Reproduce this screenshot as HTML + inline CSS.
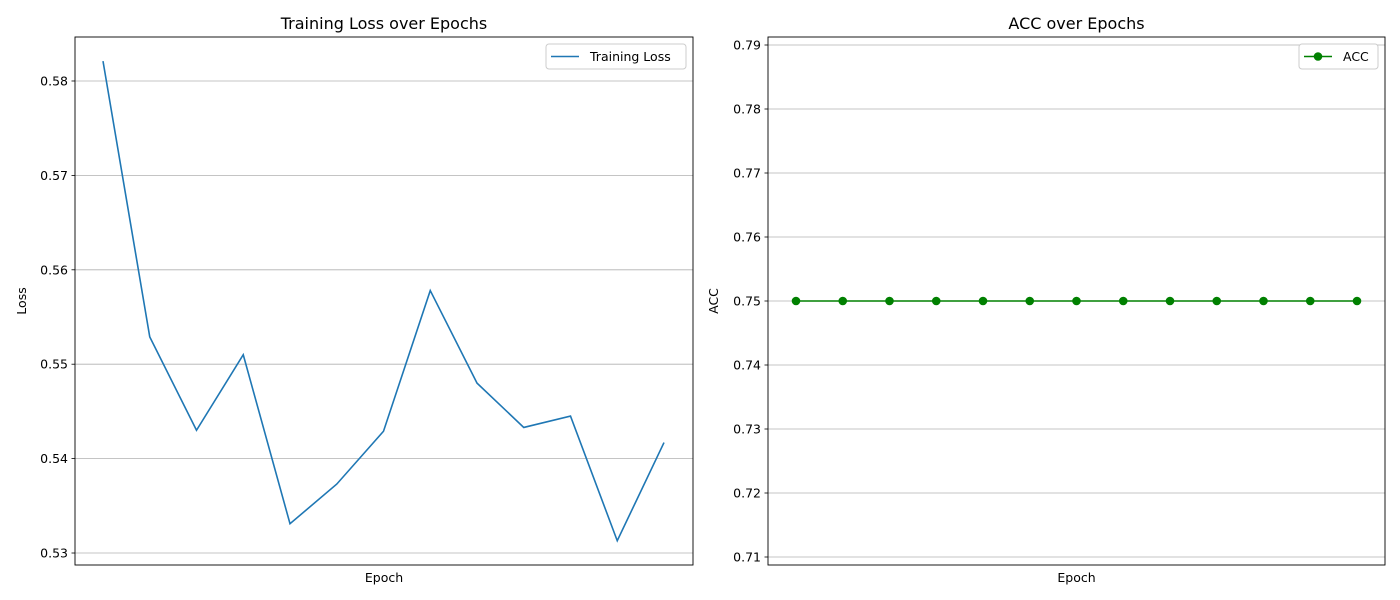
<!DOCTYPE html>
<html><head><meta charset="utf-8"><style>
body{margin:0;background:#fff;}
svg{display:block;font-family:"DejaVu Sans","Liberation Sans",sans-serif;}
</style></head><body>
<svg id="chart" width="1400" height="600" xmlns="http://www.w3.org/2000/svg"></svg>
<script>
const epochs = [1,2,3,4,5,6,7,8,9,10,11,12,13];
const lossValues = [0.5821,0.5529,0.5430,0.5510,0.5331,0.5373,0.5429,0.5578,0.5480,0.5433,0.5445,0.5313,0.5417];
const accValues = [0.75,0.75,0.75,0.75,0.75,0.75,0.75,0.75,0.75,0.75,0.75,0.75,0.75];
const lossTicks = [0.53,0.54,0.55,0.56,0.57,0.58];
const accTicks = [0.71,0.72,0.73,0.74,0.75,0.76,0.77,0.78,0.79];
const lossTickLabels = ["0.53","0.54","0.55","0.56","0.57","0.58"];
const accTickLabels = ["0.71","0.72","0.73","0.74","0.75","0.76","0.77","0.78","0.79"];

const svg = document.getElementById('chart');
const NS = 'http://www.w3.org/2000/svg';
function mk(tag, attrs, parent){const e=document.createElementNS(NS,tag);for(const k in attrs)e.setAttribute(k,attrs[k]);(parent||svg).appendChild(e);return e;}

function panel(cfg){
  const g = mk('g',{});
  
  
  const {x0,x1,y0,y1,ymin,ymax} = cfg;
  const xs = i => cfg.px0 + (i-1)*(cfg.px1-cfg.px0)/(epochs.length-1);
  const ys = v => y1 - (v-ymin)/(ymax-ymin)*(y1-y0);
  cfg.ticks.forEach((t,i)=>{
    const y = ys(t);
    const gl = mk('line',{x1:x0,x2:x1,y1:y,y2:y,stroke:'#b0b0b0','stroke-width':0.8},g);
    
    
    mk('line',{x1:x0-3.5,x2:x0,y1:y,y2:y,stroke:'#000','stroke-width':0.8},g);
    const tl = mk('text',{x:x0-7,y:y+4.5,'text-anchor':'end','font-size':12.5},g);
    tl.textContent = cfg.labels[i];
    
    
  });
  const pts = epochs.map((e,i)=>xs(e)+','+ys(cfg.values[i])).join(' ');
  const line = mk('polyline',{points:pts,fill:'none',stroke:cfg.color,'stroke-width':1.6},g);
  
  
  if(cfg.markers){
    epochs.forEach((e,i)=>{
      const c = mk('circle',{cx:xs(e),cy:ys(cfg.values[i]),r:4.3,fill:cfg.color},g);
      
      
    });
  }
  const fr = mk('rect',{x:x0,y:y0,width:x1-x0,height:y1-y0,fill:'none',stroke:'#000','stroke-width':0.9},g);
  
  
  const t = mk('text',{x:(x0+x1)/2,y:29,'text-anchor':'middle','font-size':16},g);
  t.textContent = cfg.title;
  
  
  const xl = mk('text',{x:(x0+x1)/2,y:582,'text-anchor':'middle','font-size':12.5},g);
  xl.textContent = 'Epoch';
  
  
  const yl = mk('text',{x:0,y:0,'text-anchor':'middle','font-size':12.5,transform:`translate(${cfg.ylx},${(y0+y1)/2}) rotate(-90)`},g);
  yl.textContent = cfg.ylabel;
  
  
  // legend
  const lg = mk('g',{},g);
  
  
  mk('rect',{x:cfg.lx,y:44,width:x1-7-cfg.lx,height:25,rx:3,fill:'#fff',stroke:'#ccc','stroke-width':1},lg);
  mk('line',{x1:cfg.lx+5,x2:cfg.lx+33,y1:56.5,y2:56.5,stroke:cfg.color,'stroke-width':1.6},lg);
  if(cfg.markers) mk('circle',{cx:cfg.lx+19,cy:56.5,r:4.3,fill:cfg.color},lg);
  const lt = mk('text',{x:cfg.lx+44,y:61,'font-size':12.5},lg);
  lt.textContent = cfg.seriesLabel;
  
  
}

panel({name:'loss-panel',x0:75,x1:693,y0:37,y1:565,ymin:0.52873,ymax:0.58466,px0:103,px1:664,
  ticks:lossTicks,labels:lossTickLabels,values:lossValues,color:'#1f77b4',markers:false,
  title:'Training Loss over Epochs',ylabel:'Loss',ylx:26,lx:546,seriesLabel:'Training Loss',seriesName:'loss-line'});
panel({name:'acc-panel',x0:768,x1:1385,y0:37,y1:565,ymin:0.70875,ymax:0.79125,px0:796,px1:1357,
  ticks:accTicks,labels:accTickLabels,values:accValues,color:'#008000',markers:true,
  title:'ACC over Epochs',ylabel:'ACC',ylx:718,lx:1299,seriesLabel:'ACC',seriesName:'acc-line'});
</script>
</body></html>
